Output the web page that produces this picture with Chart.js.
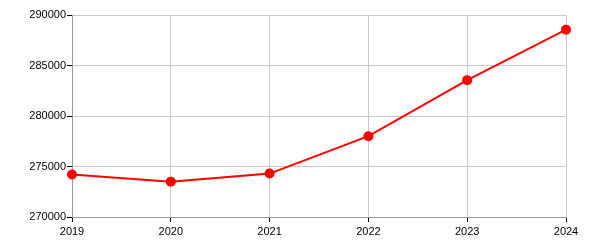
<!DOCTYPE html>
<html>
<head>
<meta charset="utf-8">
<script src="https://cdn.jsdelivr.net/npm/chart.js@4"></script>
<style>
    body { margin: 0; background: #fff; }
    #wrap { width: 600px; height: 250px; }
</style>
</head>
<body>
<div id="wrap"><canvas id="chart" width="600" height="250"></canvas></div>
<script>
const years = ['2019', '2020', '2021', '2022', '2023', '2024'];
const values = [274200, 273500, 274300, 278000, 283550, 288550];
const yMin = 270000;
const yMax = 290000;
const yStep = 5000;

document.addEventListener('DOMContentLoaded', () => {
    renderChart();
});

function renderChart() {
    const ctx = document.getElementById('chart');
    if(!ctx) return;

    new Chart(ctx, {
        type: 'line',
        data: {
            labels: years,
            datasets: [{
                data: values,
                borderColor: '#ff0000',
                backgroundColor: '#ff0000',
                borderWidth: 2,
                pointRadius: 5,
                pointHoverRadius: 5,
                pointBorderWidth: 0,
                tension: 0,
                fill: false
            }]
        },
        options: {
            responsive: false,
            animation: false,
            layout: { padding: { top: 15, right: 34, left: 0, bottom: 0 } },
            plugins: {
                legend: { display: false },
                tooltip: { enabled: false }
            },
            scales: {
                x: {
                    offset: false,
                    grid: { color: '#c8c8c8', tickColor: '#000', tickLength: 5 },
                    border: { color: '#999' },
                    ticks: { color: '#000', padding: 3, maxRotation: 0, font: { family: 'Liberation Sans', size: 11 } },
                    afterFit: (scale) => { scale.height = 33; }
                },
                y: {
                    min: yMin,
                    max: yMax,
                    grid: { color: '#c8c8c8', tickColor: '#000', tickLength: 5 },
                    border: { color: '#999' },
                    ticks: {
                        stepSize: yStep,
                        color: '#000',
                        padding: 1,
                        font: { family: 'Liberation Sans', size: 11 },
                        callback: (v) => String(v)
                    },
                    afterFit: (scale) => { scale.width = 72; }
                }
            }
        }
    });
}
</script>
</body>
</html>
